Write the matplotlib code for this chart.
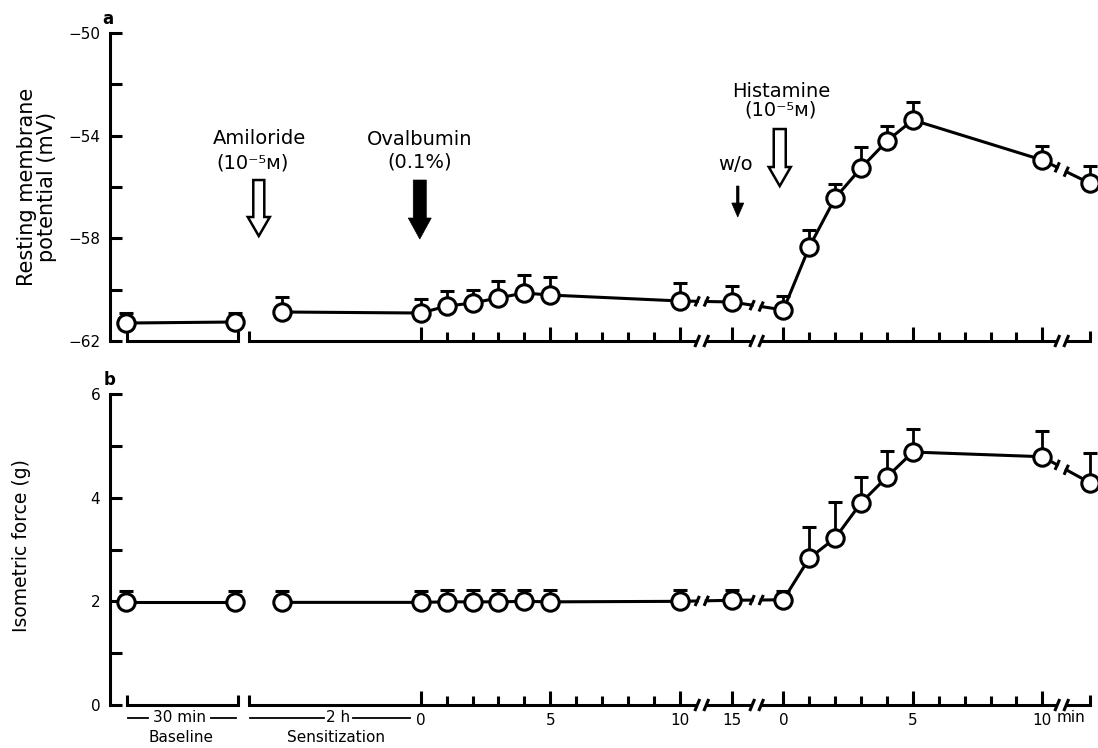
import matplotlib
matplotlib.use('Agg')
import matplotlib.pyplot as plt
from matplotlib.patches import Polygon
import numpy as np

plt.rcParams['font.family'] = ['DejaVu Sans']

# ---------------- data ----------------
# plotting positions on the compressed time axis
base_x = [-11.38, -7.19]          # baseline (30 min)
sens_x = [-5.37]                  # sensitization (2 h)
oval_x = [0, 1, 2, 3, 4, 5, 10]   # min after ovalbumin
wash_x = [12]                     # 15 min (after w/o)
hist_x = [14, 15, 16, 17, 18, 19, 24]  # min after histamine
late_x = [25.83]

# panel a: resting membrane potential (mV)
base_mv = [-61.30, -61.26]
base_mv_err = [0.39, 0.35]
sens_mv = [-60.87]
sens_mv_err = [0.58]
oval_mv = [-60.91, -60.64, -60.52, -60.32, -60.13, -60.21, -60.44]
oval_mv_err = [0.55, 0.58, 0.51, 0.66, 0.70, 0.70, 0.70]
wash_mv = [-60.48]
wash_mv_err = [0.62]
hist_mv = [-60.79, -58.34, -56.43, -55.26, -54.21, -53.39, -54.95]
hist_mv_err = [0.55, 0.66, 0.55, 0.82, 0.58, 0.70, 0.55]
late_mv = [-55.85]
late_mv_err = [0.66]

# panel b: isometric force (g)
base_g = [1.98, 1.98]
base_g_err = [0.22, 0.22]
sens_g = [1.98]
sens_g_err = [0.22]
oval_g = [1.98, 1.99, 1.99, 1.99, 2.00, 1.99, 2.00]
oval_g_err = [0.22, 0.22, 0.22, 0.22, 0.22, 0.22, 0.22]
wash_g = [2.02]
wash_g_err = [0.20]
hist_g = [2.03, 2.83, 3.22, 3.90, 4.40, 4.88, 4.79]
hist_g_err = [0.17, 0.61, 0.70, 0.50, 0.50, 0.44, 0.50]
late_g = [4.29]
late_g_err = [0.57]

major_ticks = [0, 5, 10, 12, 14, 19, 24]
major_labels = ['0', '5', '10', '15', '0', '5', '10']
minor_ticks = [1, 2, 3, 4, 6, 7, 8, 9, 15, 16, 17, 18, 20, 21, 22, 23]
axis_breaks = [10.85, 12.97, 24.75]
baseline_bracket = [-11.35, -7.07]
sens_start = -6.64
axis_end = 25.83

# ---------------- layout ----------------
W, H = 1098, 748
fig = plt.figure(figsize=(W / 100, H / 100), dpi=100)
XL = (-12.0, 26.15)

ax1 = fig.add_axes([110 / W, 1 - 341 / H, (W - 110) / W, (341 - 33) / H])
ax2 = fig.add_axes([110 / W, 1 - 705 / H, (W - 110) / W, (705 - 394) / H])

LW = 2.2


def scales(ax):
    pos = ax.get_position()
    x0, x1 = ax.get_xlim()
    y0, y1 = ax.get_ylim()
    return pos.width * W / (x1 - x0), pos.height * H / (y1 - y0)


def slash(ax, x, y, hx=2.5, hy=6.0, lw=LW):
    ppx, ppy = scales(ax)
    ax.plot([x - hx / ppx, x + hx / ppx], [y - hy / ppy, y + hy / ppy],
            color='black', lw=lw, clip_on=False, solid_capstyle='butt')


def broken_link(ax, p1, p2, xb, gap=4.5):
    ppx, ppy = scales(ax)
    g = gap / ppx
    (x1, y1), (x2, y2) = p1, p2
    xl, xr = xb - g, xb + g
    yl = y1 + (y2 - y1) * (xl - x1) / (x2 - x1)
    yr = y1 + (y2 - y1) * (xr - x1) / (x2 - x1)
    ax.plot([x1, xl], [y1, yl], color='black', lw=LW, clip_on=False, zorder=2)
    ax.plot([xr, x2], [yr, y2], color='black', lw=LW, clip_on=False, zorder=2)
    slash(ax, xl, yl, 2.2, 5.0)
    slash(ax, xr, yr, 2.2, 5.0)


def panel(ax, ylim, yticks, yminor, ylabels, series):
    ax.set_xlim(*XL)
    ax.set_ylim(*ylim)
    ppx, ppy = scales(ax)
    for s in ['top', 'right', 'bottom']:
        ax.spines[s].set_visible(False)
    ax.spines['left'].set_linewidth(LW)
    ax.set_yticks(yticks)
    ax.set_yticklabels(ylabels)
    ax.set_yticks(yminor, minor=True)
    ax.tick_params(axis='y', which='both', direction='in', length=8.5,
                   width=LW, labelsize=11, pad=7)
    ax.set_xticks(major_ticks)
    ax.set_xticks(minor_ticks, minor=True)
    ax.tick_params(axis='x', which='major', direction='in', length=10,
                   width=LW, labelsize=11, pad=6)
    ax.tick_params(axis='x', which='minor', direction='in', length=6.5,
                   width=LW)

    # custom broken x axis
    y0 = ylim[0]
    h = 10 / ppy
    g = 4.5 / ppx
    kw = dict(color='black', lw=LW, clip_on=False, solid_joinstyle='miter',
              solid_capstyle='butt')
    bx0, bx1 = baseline_bracket
    ax.plot([bx0, bx0, bx1, bx1], [y0 + h, y0, y0, y0 + h], **kw)
    b1, b2, b3 = axis_breaks
    ax.plot([sens_start, sens_start, b1 - g], [y0 + h, y0, y0], **kw)
    ax.plot([b1 + g, b2 - g], [y0, y0], **kw)
    ax.plot([b2 + g, b3 - g], [y0, y0], **kw)
    ax.plot([b3 + g, axis_end, axis_end], [y0, y0, y0 + h], **kw)
    for b in axis_breaks:
        slash(ax, b - g, y0)
        slash(ax, b + g, y0)

    (bx, by, be), (sx, sy, se), (ox, oy, oe), (wx, wy, we), (hx, hy, he), (lx, ly, le) = series
    lkw = dict(color='black', lw=LW, clip_on=False, zorder=2)
    ax.plot(bx, by, **lkw)
    ax.plot(sx + ox, sy + oy, **lkw)
    ax.plot(hx, hy, **lkw)
    broken_link(ax, (ox[-1], oy[-1]), (wx[0], wy[0]), b1)
    broken_link(ax, (wx[0], wy[0]), (hx[0], hy[0]), b2)
    broken_link(ax, (hx[-1], hy[-1]), (lx[0], ly[0]), b3)

    allx = bx + sx + ox + wx + hx + lx
    ally = by + sy + oy + wy + hy + ly
    alle = be + se + oe + we + he + le
    ax.errorbar(allx, ally, yerr=[np.zeros(len(alle)), alle], fmt='none',
                ecolor='black', elinewidth=2.0, capsize=4.7, capthick=LW,
                clip_on=False, zorder=2)
    ax.plot(allx, ally, 'o', ms=12.5, mfc='white', mec='black', mew=2.2,
            clip_on=False, zorder=4, linestyle='none')


panel(ax1, (-62, -50), [-62, -58, -54, -50], [-60, -56, -52],
      ['\u221262', '\u221258', '\u221254', '\u221250'],
      [(base_x, base_mv, base_mv_err), (sens_x, sens_mv, sens_mv_err),
       (oval_x, oval_mv, oval_mv_err), (wash_x, wash_mv, wash_mv_err),
       (hist_x, hist_mv, hist_mv_err), (late_x, late_mv, late_mv_err)])
ax1.set_xticklabels([])

panel(ax2, (0, 6), [0, 2, 4, 6], [1, 3, 5], ['0', '2', '4', '6'],
      [(base_x, base_g, base_g_err), (sens_x, sens_g, sens_g_err),
       (oval_x, oval_g, oval_g_err), (wash_x, wash_g, wash_g_err),
       (hist_x, hist_g, hist_g_err), (late_x, late_g, late_g_err)])
ax2.set_xticklabels(major_labels)

# axis labels
ax1.set_ylabel('Resting membrane\npotential (mV)', fontsize=15,
               va='center', linespacing=1.0)
ax1.yaxis.set_label_coords((37 - 110) / 988, (341 - 187) / 308)
ax2.set_ylabel('Isometric force (g)', fontsize=13.5, va='center')
ax2.yaxis.set_label_coords((22 - 110) / 988, (705 - 546) / 311)

fig.text(108 / W, 1 - 19 / H, 'a', fontsize=12, fontweight='bold',
         ha='center', va='center')
fig.text(110 / W, 1 - 380 / H, 'b', fontsize=12, fontweight='bold',
         ha='center', va='center')


def px2x(px):
    return (px - 421) / 25.9


# under-axis annotations in panel b
tr = ax2.get_xaxis_transform()
yl = -(718 - 705) / 311
yb = -(737 - 705) / 311
ax2.text(px2x(180), yl, '30 min', transform=tr, ha='center', va='center',
         fontsize=11)
ax2.text(px2x(338), yl, '2 h', transform=tr, ha='center', va='center',
         fontsize=11)
ax2.text(px2x(1057), yl, 'min', transform=tr, ha='left', va='center',
         fontsize=11)
for a, b in [(128, 148), (211, 236), (250, 324), (353, 410)]:
    ax2.plot([px2x(a), px2x(b)], [yl, yl], transform=tr, color='black',
             lw=1.3, clip_on=False)
ax2.text(px2x(181), yb, 'Baseline', transform=tr, ha='center', va='center',
         fontsize=11)
ax2.text(px2x(336), yb, 'Sensitization', transform=tr, ha='center',
         va='center', fontsize=11)


# arrows and drug labels in panel a
def mv(py):
    return -62 + (341 - py) / 25.67


def down_arrow(ax, xpx, top, head, tip, shaft_px, head_px, filled, lw=1.8):
    ppx, ppy = scales(ax)
    x = px2x(xpx)
    sw = shaft_px / 2 / ppx
    hw = head_px / 2 / ppx
    yt, yh, yp = mv(top), mv(head), mv(tip)
    verts = [(x - sw, yt), (x + sw, yt), (x + sw, yh), (x + hw, yh),
             (x, yp), (x - hw, yh), (x - sw, yh)]
    ax.add_patch(Polygon(verts, closed=True,
                         facecolor='black' if filled else 'white',
                         edgecolor='black', lw=lw, joinstyle='miter',
                         clip_on=False, zorder=5))


down_arrow(ax1, 259, 180, 217, 236, 11, 22, False)
down_arrow(ax1, 420, 180, 218, 239, 13, 23, True, lw=0.5)
down_arrow(ax1, 780, 129, 167, 186, 12, 22, False)
down_arrow(ax1, 738, 186, 203, 217, 2.5, 12, True, lw=0.5)

tfs = 14
ax1.text(px2x(260), mv(138), 'Amiloride', ha='center', va='center', fontsize=tfs)
ax1.text(px2x(253), mv(163), '(10\u207b\u2075\u1d0d)', ha='center', va='center', fontsize=tfs)
ax1.text(px2x(420), mv(139), 'Ovalbumin', ha='center', va='center', fontsize=tfs)
ax1.text(px2x(420), mv(162), '(0.1%)', ha='center', va='center', fontsize=tfs)
ax1.text(px2x(782), mv(91), 'Histamine', ha='center', va='center', fontsize=tfs)
ax1.text(px2x(781), mv(110), '(10\u207b\u2075\u1d0d)', ha='center', va='center', fontsize=tfs)
ax1.text(px2x(736), mv(164), 'w/o', ha='center', va='center', fontsize=tfs)

fig.savefig('out.png', dpi=100, facecolor='white')
